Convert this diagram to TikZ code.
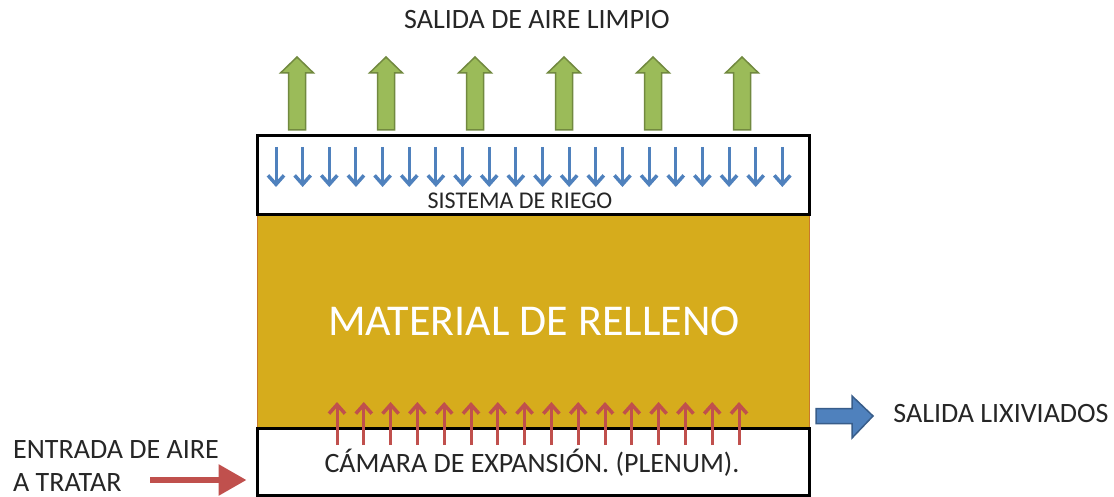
\documentclass[tikz,border=0pt]{standalone}
\usepackage{fontspec}
\setmainfont{Carlito}
\usetikzlibrary{arrows.meta,positioning}
\definecolor{relleno}{HTML}{D6AC1C}
\definecolor{rellenoedge}{HTML}{C8782A}
\definecolor{aguablue}{HTML}{4F81BD}
\definecolor{aguadark}{HTML}{385D8A}
\definecolor{aireverde}{HTML}{9BBB59}
\definecolor{aireverdedark}{HTML}{71893F}
\definecolor{airerojo}{HTML}{C0504D}
\definecolor{texto}{HTML}{262626}
\tikzset{
  capa/.style={draw=black, line width=3pt, fill=white, minimum width=552pt, inner sep=0pt},
  etiqueta/.style={text=texto, font=\fontsize{28}{33}\selectfont, inner sep=0pt},
  riego/.style={aguablue, line width=3pt, -{Straight Barb[length=9pt,width=16pt,line width=3.5pt]}},
  plenum/.style={airerojo, line width=3pt, -{Straight Barb[length=9pt,width=16pt,line width=3.5pt]}},
  limpio/.style={fill=aireverde, draw=aireverdedark, line width=1.5pt},
}
\begin{document}
\begin{tikzpicture}[x=1pt,y=-1pt]
  \useasboundingbox[fill=white] (0,0) rectangle (1114,497);
  % capas de la torre
  \node[draw=rellenoedge, line width=1pt, fill=relleno, minimum width=552pt, minimum height=213pt, inner sep=0pt] (relleno) at (533,321.5) {};
  \node[capa, minimum height=79pt] (sistema) at (533,175.5) {};
  \node[capa, minimum height=67pt] (camara) at (533,461.5) {};
  \node[text=white, font=\fontsize{44}{50}\selectfont, inner sep=0pt] (rellenotxt) at (534,321) {MATERIAL DE RELLENO};
  \node[etiqueta, font=\fontsize{24}{28}\selectfont] (sistematxt) at (520,201) {SISTEMA DE RIEGO};
  \node[etiqueta] (camaratxt) at (532,463) {CÁMARA DE EXPANSIÓN. (PLENUM).};
  % agua de riego
  \foreach \i in {0,...,19}
    \draw[riego] (276+26.65*\i,147) -- ++(0,40);
  % aire hacia arriba
  \foreach \i in {0,...,15}
    \draw[plenum] (337+26.8*\i,445) -- ++(0,-43);
  % salida de aire limpio
  \node[etiqueta] (salidaaire) at (537,20) {SALIDA DE AIRE LIMPIO};
  \foreach \x in {297,386,475,564,653,742}
    \filldraw[limpio, shift={(\x,0)}] (-8.5,130) -- (-8.5,73) -- (-16.5,73) -- (0,57)
      -- (16.5,73) -- (8.5,73) -- (8.5,130) -- cycle;
  % lixiviados
  \filldraw[fill=aguablue, draw=aguadark, line width=1.5pt] (816,408.5) -- (852,408.5) -- (852,396)
    -- (873,416) -- (852,438) -- (852,423.5) -- (816,423.5) -- cycle;
  \node[etiqueta] (lixiviados) at (1001,414) {SALIDA LIXIVIADOS};
  % entrada de aire
  \node[etiqueta, anchor=west, align=left] (entrada) at (13,466) {ENTRADA DE AIRE\\A TRATAR};
  \coordinate (entradaini) at (150,480);
  \draw[airerojo, line width=6pt, -{Triangle[length=28pt,width=30pt]}, shorten >=9pt]
    (entradaini) -- (entradaini -| camara.west);
\end{tikzpicture}
\end{document}
